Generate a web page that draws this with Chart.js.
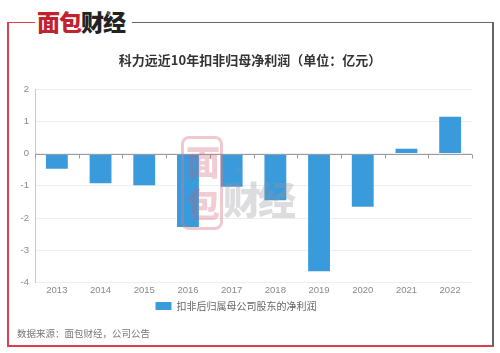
<!DOCTYPE html>
<html><head><meta charset="utf-8">
<script src="https://cdn.jsdelivr.net/npm/chart.js@4"></script>
<style>
html,body{margin:0;padding:0;background:#fff;}
body{width:500px;height:353px;position:relative;overflow:hidden;font-family:"Noto Sans CJK SC","Noto Sans",sans-serif;}
.ln{position:absolute;}
#wrap{position:absolute;left:0;top:0;width:500px;height:353px;}
#title{position:absolute;left:0;width:500px;top:50px;text-align:center;font-size:13px;font-weight:bold;color:#333;}
#src{position:absolute;left:17px;top:326px;font-size:9.5px;color:#777;}
#logo{position:absolute;left:37px;top:6px;font-size:23px;font-weight:900;letter-spacing:-1px;line-height:30px;}
#wm{position:absolute;left:0;top:0;width:500px;height:353px;pointer-events:none;}
</style></head>
<body>
<div class="ln" style="left:7px;top:22px;width:2px;height:324px;background:#d8404e"></div>
<div class="ln" style="left:7px;top:345px;width:487px;height:2px;background:#d8404e"></div>
<div class="ln" style="left:7px;top:22px;width:28px;height:1px;background:#d8404e"></div>
<div class="ln" style="left:132px;top:22px;width:362px;height:1px;background:#666"></div>
<div class="ln" style="left:492px;top:22px;width:2px;height:324px;background:#666"></div>
<div id="logo"><span style="color:#c0232e">面包</span><span style="color:#222">财经</span><span style="position:absolute;left:70px;top:-6px;font-size:8px;color:#999;font-weight:normal">®</span></div>
<div id="wrap"><canvas id="c" width="500" height="353"></canvas></div>
<div id="title">科力远近10年扣非归母净利润（单位：亿元）</div>
<div id="wm">
  <div style="position:absolute;left:181px;top:136px;width:42px;height:94px;border:3px solid rgba(214,120,130,0.4);border-radius:8px;box-sizing:border-box"></div>
  <div style="position:absolute;left:186px;top:140px;font-size:34px;line-height:42px;font-weight:900;color:rgba(205,90,105,0.3)">面<br>包</div>
  <div style="position:absolute;left:223px;top:176px;font-size:38px;line-height:44px;font-weight:900;color:rgba(150,150,160,0.32);letter-spacing:-3px">财经</div>
  <div style="position:absolute;left:236px;top:164px;font-size:10px;color:rgba(150,150,160,0.5)">®</div>
</div>
<div id="src">数据来源：面包财经，公司公告</div>
<script>
const categories = ["2013","2014","2015","2016","2017","2018","2019","2020","2021","2022"];
const netProfit = [-0.47,-0.92,-0.98,-2.28,-1.03,-1.45,-3.65,-1.65,0.15,1.14];
const seriesName = "扣非后归属母公司股东的净利润";
const yTicks = [-4,-3,-2,-1,0,1,2];

const zeroAxis = {
  id:'zeroAxis',
  afterDatasetsDraw(chart){
    const {ctx, chartArea, scales:{x,y}} = chart;
    const y0 = Math.round(y.getPixelForValue(0))+0.5;
    ctx.save();
    ctx.strokeStyle = '#9a9aa6';
    ctx.lineWidth = 1;
    ctx.beginPath();
    ctx.moveTo(chartArea.left, y0); ctx.lineTo(chartArea.right, y0);
    for (let i=0;i<=categories.length;i++){
      const px = Math.round(x.getPixelForValue(i-0.5))+0.5;
      ctx.moveTo(px, y0); ctx.lineTo(px, y0+4);
    }
    ctx.stroke();
    ctx.restore();
  }
};

new Chart(document.getElementById('c'), {
  type:'bar',
  data:{labels:categories, datasets:[{label:seriesName, data:netProfit, backgroundColor:'#3a9bdc', barPercentage:0.5, categoryPercentage:1}]},
  options:{
    responsive:false, animation:false,
    layout:{padding:{top:89,right:28,bottom:32,left:0}},
    plugins:{
      tooltip:{enabled:false},
      legend:{position:'bottom', labels:{boxWidth:16, boxHeight:8, color:'#666', font:{size:10, family:'"Noto Sans CJK SC"'}, padding:3}},
      title:{display:false}
    },
    scales:{
      x:{grid:{display:false, drawTicks:false}, border:{display:false}, ticks:{color:'#888', font:{size:9.5}, padding:2}},
      y:{min:-4, max:2, afterFit(s){s.width=35;},
        afterBuildTicks(s){s.ticks = yTicks.map(v=>({value:v}));},
        grid:{color:'#eeeeee', drawTicks:false},
        border:{display:true, color:'#c8c8c8'},
        ticks:{color:'#888', font:{size:9.5}, padding:6}}
    }
  },
  plugins:[zeroAxis]
});
</script>
</body></html>
